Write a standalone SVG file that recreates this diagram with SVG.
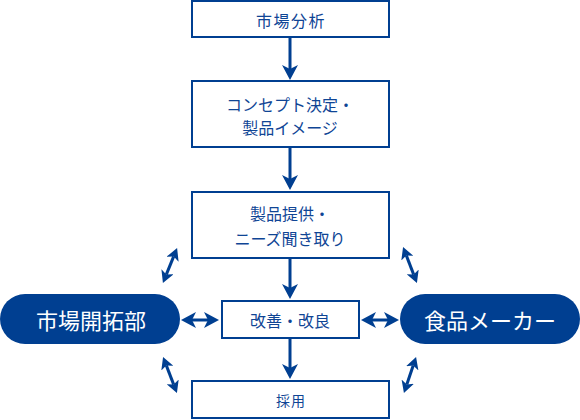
<svg xmlns="http://www.w3.org/2000/svg" width="580" height="420" viewBox="0 0 580 420">
<style>
.box{fill:#fff;stroke:#003f91;stroke-width:2}
.pill{fill:#003f91}
.t{font-family:"Noto Sans CJK JP","Noto Sans",sans-serif;fill:#0f4595;text-anchor:middle;font-size:16px}
.pt{font-family:"Noto Sans CJK JP","Noto Sans",sans-serif;fill:#fff;text-anchor:middle;font-size:22px}
.ln{stroke:#003f91;stroke-width:3;fill:none}
.big{marker-end:url(#hb)}
.dbl{marker-start:url(#hb);marker-end:url(#hb)}
.dsm{marker-start:url(#hs);marker-end:url(#hs)}
</style>
<defs>
<marker id="hb" viewBox="0 0 15 16" refX="4" refY="8" markerWidth="15" markerHeight="16" markerUnits="userSpaceOnUse" orient="auto-start-reverse">
<path d="M15,8 L0,0 L4,8 L0,16 Z" fill="#003f91"/>
</marker>
<marker id="hs" viewBox="0 0 12 13" refX="3" refY="6.5" markerWidth="12" markerHeight="13" markerUnits="userSpaceOnUse" orient="auto-start-reverse">
<path d="M12,6.5 L0,0 L3,6.5 L0,13 Z" fill="#003f91"/>
</marker>
</defs>
<g id="connectors">
<line class="ln big" x1="290" y1="38" x2="290" y2="69"/>
<line class="ln big" x1="290" y1="148" x2="290" y2="179"/>
<line class="ln big" x1="290" y1="259" x2="290" y2="288"/>
<line class="ln big" x1="290" y1="339" x2="290" y2="368"/>
<line class="ln dbl" x1="192" y1="320" x2="208" y2="320"/>
<line class="ln dbl" x1="372" y1="320" x2="388" y2="320"/>
<line class="ln dsm" x1="173.7" y1="256.4" x2="166.3" y2="274.6"/>
<line class="ln dsm" x1="166.3" y1="365.4" x2="173.7" y2="384.6"/>
<line class="ln dsm" x1="406.3" y1="255.4" x2="413.7" y2="274.6"/>
<line class="ln dsm" x1="413.2" y1="365.5" x2="406.8" y2="384.5"/>
</g>
<g id="n1"><rect class="box" x="192" y="1" width="197" height="36"/><text class="t" x="291" y="27" style="letter-spacing:1.5px">市場分析</text></g>
<g id="n2"><rect class="box" x="192" y="81" width="197" height="66"/><text class="t" x="290" y="111">コンセプト決定・</text><text class="t" x="290" y="134">製品イメージ</text></g>
<g id="n3"><rect class="box" x="192" y="192" width="197" height="66"/><text class="t" x="290" y="220">製品提供・</text><text class="t" x="290" y="245">ニーズ聞き取り</text></g>
<g id="n4"><rect class="box" x="222" y="301" width="137" height="37"/><text class="t" x="290" y="327">改善・改良</text></g>
<g id="n5"><rect class="box" x="192" y="381" width="197" height="37"/><text class="t" x="291" y="406" style="font-size:14px;letter-spacing:1px">採用</text></g>
<g id="n6"><rect class="pill" x="0" y="294" width="180" height="50" rx="25"/><text class="pt" x="91" y="329">市場開拓部</text></g>
<g id="n7"><rect class="pill" x="400" y="294" width="180" height="50" rx="25"/><text class="pt" x="490" y="329">食品メーカー</text></g>
</svg>
